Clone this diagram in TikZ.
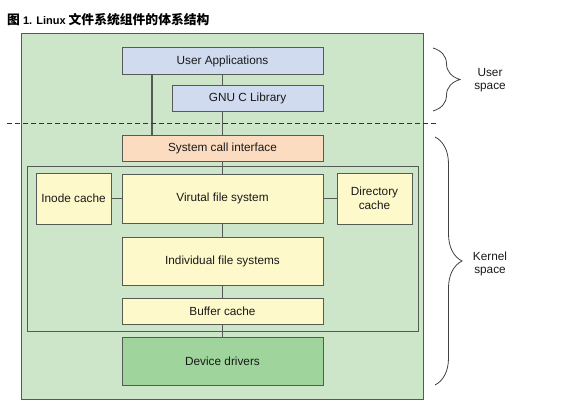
\documentclass[tikz,border=0pt]{standalone}
\usepackage{fontspec}
\setmainfont{Liberation Sans}
\newfontfamily\cjkfont{Noto Sans CJK SC}
\usetikzlibrary{decorations.pathreplacing}
\definecolor{bggreen}{HTML}{CDE5C9}
\definecolor{ublue}{HTML}{D0DBF0}
\definecolor{peach}{HTML}{FCDCC0}
\definecolor{pyellow}{HTML}{FEF9CB}
\definecolor{devgreen}{HTML}{9FD49C}
\definecolor{linec}{HTML}{555A55}
\tikzset{
  box/.style={draw=linec, line width=1pt, inner sep=0pt, align=center,
    font=\fontsize{11.8}{13.5}\selectfont, text=black!90},
  conn/.style={draw=linec, line width=1.2pt},
  bracestyle/.style={draw=black!75, line width=0.8pt, decorate,
    decoration={brace, amplitude=27pt, aspect=0.5}},
  sidelabel/.style={align=center, font=\fontsize{11.8}{13.5}\selectfont, text=black!90}
}
\begin{document}
\begin{tikzpicture}[x=1pt, y=-1pt]
\useasboundingbox (0,0) rectangle (577,412);
% title
\node[anchor=west, inner sep=0pt, font=\bfseries\fontsize{11}{13}\selectfont] (title) at (7,20)
  {{\cjkfont\fontsize{12.8}{14}\selectfont 图} 1. Linux {\cjkfont\fontsize{12.8}{14}\selectfont 文件系统组件的体系结构}};
% outer background
\node[box, fill=bggreen, minimum width=402pt, minimum height=365pt] (outer) at (222,216.5) {};
% user space boxes
\node[box, fill=ublue, minimum width=201pt, minimum height=26pt] (ua) at (222.5,61) {User Applications};
\node[box, fill=ublue, minimum width=151pt, minimum height=26pt] (gnu) at (247.5,98) {GNU C Library};
\node[box, fill=peach, minimum width=201pt, minimum height=26pt] (sci) at (222.5,148) {System call interface};
% kernel inner box
\node[box, fill=bggreen, minimum width=391pt, minimum height=165pt] (kern) at (222.5,248.5) {};
\node[box, fill=pyellow, minimum width=75pt, minimum height=51pt] (inode) at (73.5,198.5) {Inode cache};
\node[box, fill=pyellow, minimum width=201pt, minimum height=49pt] (vfs) at (222.5,198.5) {Virutal file system};
\node[box, fill=pyellow, minimum width=75pt, minimum height=51pt] (dir) at (374.5,198.5) {Directory\\cache};
\node[box, fill=pyellow, minimum width=201pt, minimum height=48pt] (ifs) at (222.5,261) {Individual file systems};
\node[box, fill=pyellow, minimum width=201pt, minimum height=26pt] (buf) at (222.5,311) {Buffer cache};
\node[box, fill=devgreen, minimum width=201pt, minimum height=48pt] (dev) at (222.5,361) {Device drivers};
% connectors
\coordinate (cx) at (152,0);
\draw[conn] (ua.south -| cx) -- (sci.north -| cx);
\draw[conn] (ua.south) -- (ua.south |- gnu.north);
\draw[conn] (gnu.south -| ua.south) -- (sci.north);
\draw[conn] (sci.south) -- (vfs.north);
\draw[conn] (inode.east) -- (vfs.west);
\draw[conn] (vfs.east) -- (dir.west);
\draw[conn] (vfs.south) -- (ifs.north);
\draw[conn] (ifs.south) -- (buf.north);
\draw[conn] (buf.south) -- (dev.north);
% user/kernel separator
\coordinate (sepl) at (7,123);
\coordinate (sepr) at (437,123);
\draw[draw=black!80, line width=0.9pt, dash pattern=on 5pt off 3pt] (sepl) -- (sepr);
% braces
\coordinate (ub1) at (433,48);
\coordinate (ub2) at (433,111);
\draw[bracestyle] (ub1) -- (ub2);
\coordinate (kb1) at (435,137);
\coordinate (kb2) at (435,385);
\draw[bracestyle] (kb1) -- (kb2);
\node[sidelabel] (ulabel) at (490,80) {User\\space};
\node[sidelabel] (klabel) at (490,264) {Kernel\\space};
\end{tikzpicture}
\end{document}
